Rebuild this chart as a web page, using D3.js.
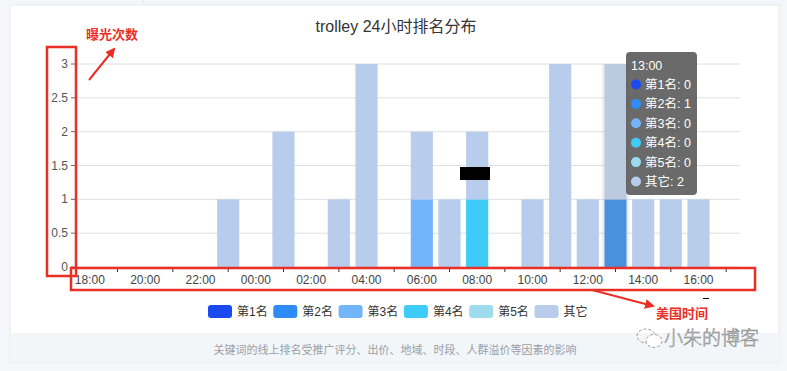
<!DOCTYPE html>
<html>
<head>
<meta charset="utf-8">
<script src="https://cdn.jsdelivr.net/npm/d3@7/dist/d3.min.js"></script>
<style>
  body { margin: 0; background: #f4f6f9; }
  svg { display: block; font-family: "Liberation Sans", "Noto Sans CJK SC", sans-serif; }
</style>
</head>
<body>
<div id="chart"></div>
<script>
// chart data
var hours = ["18:00","19:00","20:00","21:00","22:00","23:00","00:00","01:00","02:00","03:00","04:00","05:00",
             "06:00","07:00","08:00","09:00","10:00","11:00","12:00","13:00","14:00","15:00","16:00","17:00"];
var seriesNames = ["第1名", "第2名", "第3名", "第4名", "第5名", "其它"];
var rank1 = [0,0,0,0,0,0,0,0,0,0,0,0,0,0,0,0,0,0,0,0,0,0,0,0];
var rank2 = [0,0,0,0,0,0,0,0,0,0,0,0,0,0,0,0,0,0,0,1,0,0,0,0];
var rank3 = [0,0,0,0,0,0,0,0,0,0,0,0,1,0,0,0,0,0,0,0,0,0,0,0];
var rank4 = [0,0,0,0,0,0,0,0,0,0,0,0,0,0,1,0,0,0,0,0,0,0,0,0];
var rank5 = [0,0,0,0,0,0,0,0,0,0,0,0,0,0,0,0,0,0,0,0,0,0,0,0];
var other = [0,0,0,0,0,1,0,2,0,1,3,0,1,1,1,0,1,3,1,2,1,1,1,0];
var yTicks = [0, 0.5, 1, 1.5, 2, 2.5, 3];
var hoverHour = "13:00";

var colors = ["#1a49f0", "#2f8bf6", "#73b5f9", "#3ecbf8", "#9fdbef", "#b7cdeb"];
var hoverColors = ["#1a49f0", "#4a92df", "#73b5f9", "#3ecbf8", "#9fdbef", "#bccadf"];

var svgWidth = 787, svgHeight = 371;
var svg = d3.select("#chart").append("svg")
  .attr("width", svgWidth)
  .attr("height", svgHeight);

// page background + card
svg.append("rect").attr("width", svgWidth).attr("height", svgHeight).attr("fill", "#f4f6f9");
svg.append("line").attr("x1", 143).attr("x2", 143).attr("y1", 0).attr("y2", 5).attr("stroke", "#e3e6ea");
svg.append("rect").attr("x", 10).attr("y", 5).attr("width", 769).attr("height", 357)
  .attr("fill", "#fff").attr("stroke", "#e6e9ee");
svg.append("rect").attr("x", 10.5).attr("y", 333).attr("width", 768).attr("height", 28.5).attr("fill", "#f3f6f9");
svg.append("text").attr("x", 395).attr("y", 354).attr("text-anchor", "middle")
  .attr("font-size", 11).attr("fill", "#9a9ea5")
  .text("关键词的线上排名受推广评分、出价、地域、时段、人群溢价等因素的影响");

// title
svg.append("text").attr("x", 396).attr("y", 32).attr("text-anchor", "middle")
  .attr("font-size", 16).attr("fill", "#333").text("trolley 24小时排名分布");

// scales
var x = d3.scaleBand().domain(hours).range([76, 740]).paddingInner(0.2).paddingOuter(0.1);
var y = d3.scaleLinear().domain([0, 3]).range([267, 64]);
var step = x.step();

// grid lines + y labels
var yAxis = svg.append("g");
yAxis.selectAll("line.grid").data(yTicks).enter().append("line")
  .attr("x1", 76).attr("x2", 740)
  .attr("y1", d => y(d)).attr("y2", d => y(d))
  .attr("stroke", "#e0e0e0");
yAxis.selectAll("line.tick").data(yTicks).enter().append("line")
  .attr("x1", 71).attr("x2", 76)
  .attr("y1", d => y(d)).attr("y2", d => y(d))
  .attr("stroke", "#666");
yAxis.selectAll("text").data(yTicks).enter().append("text")
  .attr("x", 68).attr("y", d => y(d) + 4)
  .attr("text-anchor", "end").attr("font-size", 12).attr("fill", "#555")
  .text(d => d);

// hover shadow
svg.append("rect")
  .attr("x", x(hoverHour) - step * 0.1).attr("y", 64)
  .attr("width", step).attr("height", 203)
  .attr("fill", "rgba(150,150,150,0.15)");

// stacked bars
var table = hours.map(function(h, i) {
  return { hour: h, s0: rank1[i], s1: rank2[i], s2: rank3[i], s3: rank4[i], s4: rank5[i], s5: other[i] };
});
var stack = d3.stack().keys(["s0","s1","s2","s3","s4","s5"]);
var layers = stack(table);

svg.selectAll("g.layer").data(layers).enter().append("g")
  .attr("class", "layer")
  .each(function(layer, li) {
    d3.select(this).selectAll("rect").data(layer.filter(d => d[1] > d[0])).enter().append("rect")
      .attr("x", d => x(d.data.hour))
      .attr("width", x.bandwidth())
      .attr("y", d => y(d[1]))
      .attr("height", d => y(d[0]) - y(d[1]))
      .attr("fill", d => d.data.hour === hoverHour ? hoverColors[li] : colors[li]);
  });

// x axis
var xAxis = svg.append("g");
xAxis.append("line").attr("x1", 76).attr("x2", 740).attr("y1", 267.5).attr("y2", 267.5).attr("stroke", "#333");
var tickPos = [76].concat(hours.filter((h, i) => i % 2 === 1).map(h => x(h) + x.bandwidth() / 2));
xAxis.selectAll("line.t").data(tickPos).enter().append("line")
  .attr("x1", d => d).attr("x2", d => d).attr("y1", 267).attr("y2", 272)
  .attr("stroke", "#333");
xAxis.selectAll("text").data(hours.filter((h, i) => i % 2 === 0)).enter().append("text")
  .attr("x", d => x(d) + x.bandwidth() / 2).attr("y", 284)
  .attr("text-anchor", "middle").attr("font-size", 12).attr("fill", "#444")
  .text(d => d);

// legend
var legend = svg.append("g");
var lg = legend.selectAll("g").data(seriesNames).enter().append("g")
  .attr("transform", (d, i) => `translate(${208 + i * 65.3}, 305)`);
lg.append("rect").attr("width", 24).attr("height", 13).attr("rx", 3).attr("fill", (d, i) => colors[i]);
lg.append("text").attr("x", 29).attr("y", 11).attr("font-size", 12).attr("fill", "#333").text(d => d);

// tooltip
var hi = hours.indexOf(hoverHour);
var tipVals = [rank1[hi], rank2[hi], rank3[hi], rank4[hi], rank5[hi], other[hi]];
var tip = svg.append("g").attr("transform", "translate(626, 52)");
tip.append("rect").attr("width", 71).attr("height", 143).attr("rx", 4).attr("fill", "rgba(80,80,80,0.85)");
tip.append("text").attr("x", 5).attr("y", 18).attr("font-size", 12.5).attr("fill", "#fff").text(hoverHour);
var tipRows = tip.selectAll("g").data(seriesNames).enter().append("g")
  .attr("transform", (d, i) => `translate(0, ${37 + i * 19.4})`);
tipRows.append("circle").attr("cx", 10).attr("cy", -4.5).attr("r", 5).attr("fill", (d, i) => colors[i]);
tipRows.append("text").attr("x", 19).attr("y", 0).attr("font-size", 12.5).attr("fill", "#fff")
  .text((d, i) => d + ": " + tipVals[i]);

// red annotations
var red = "#ea2f26";
svg.append("defs").append("marker").attr("id", "arrow")
  .attr("viewBox", "0 0 10 10").attr("refX", 8).attr("refY", 5)
  .attr("markerWidth", 5).attr("markerHeight", 5).attr("orient", "auto")
  .append("path").attr("d", "M0,0 L10,5 L0,10 z").attr("fill", red);
svg.append("rect").attr("x", 47).attr("y", 47).attr("width", 29).attr("height", 229)
  .attr("fill", "none").attr("stroke", red).attr("stroke-width", 2.5);
svg.append("rect").attr("x", 71).attr("y", 268).attr("width", 684).attr("height", 22)
  .attr("fill", "none").attr("stroke", red).attr("stroke-width", 2.5);
svg.append("line").attr("x1", 89).attr("y1", 80).attr("x2", 114).attr("y2", 49)
  .attr("stroke", red).attr("stroke-width", 2).attr("marker-end", "url(#arrow)");
svg.append("line").attr("x1", 592).attr("y1", 290).attr("x2", 653).attr("y2", 306)
  .attr("stroke", red).attr("stroke-width", 2).attr("marker-end", "url(#arrow)");
svg.append("text").attr("x", 86).attr("y", 39).attr("font-size", 13).attr("font-weight", "bold")
  .attr("fill", red).text("曝光次数");
svg.append("text").attr("x", 656).attr("y", 318).attr("font-size", 13).attr("font-weight", "bold")
  .attr("fill", red).text("美国时间");

// redaction and stray mark
svg.append("rect").attr("x", 460).attr("y", 167).attr("width", 30).attr("height", 13).attr("fill", "#000");
svg.append("line").attr("x1", 703).attr("x2", 709).attr("y1", 298.5).attr("y2", 298.5).attr("stroke", "#000");

// watermark
var wm = svg.append("g").attr("transform", "translate(634, 343)");
wm.append("ellipse").attr("cx", 12).attr("cy", -7).attr("rx", 9).attr("ry", 7)
  .attr("fill", "none").attr("stroke", "#999").attr("stroke-dasharray", "3,2");
wm.append("ellipse").attr("cx", 20).attr("cy", -2).attr("rx", 8).attr("ry", 6.5)
  .attr("fill", "#fff").attr("stroke", "#999").attr("stroke-dasharray", "3,2");
wm.append("text").attr("x", 30).attr("y", 2).attr("font-size", 19)
  .attr("fill", "#fff").attr("stroke", "#8a8a8a").attr("stroke-width", 0.6)
  .attr("font-family", "Noto Sans CJK SC").attr("font-weight", 300).text("小朱的博客");
</script>
</body>
</html>
